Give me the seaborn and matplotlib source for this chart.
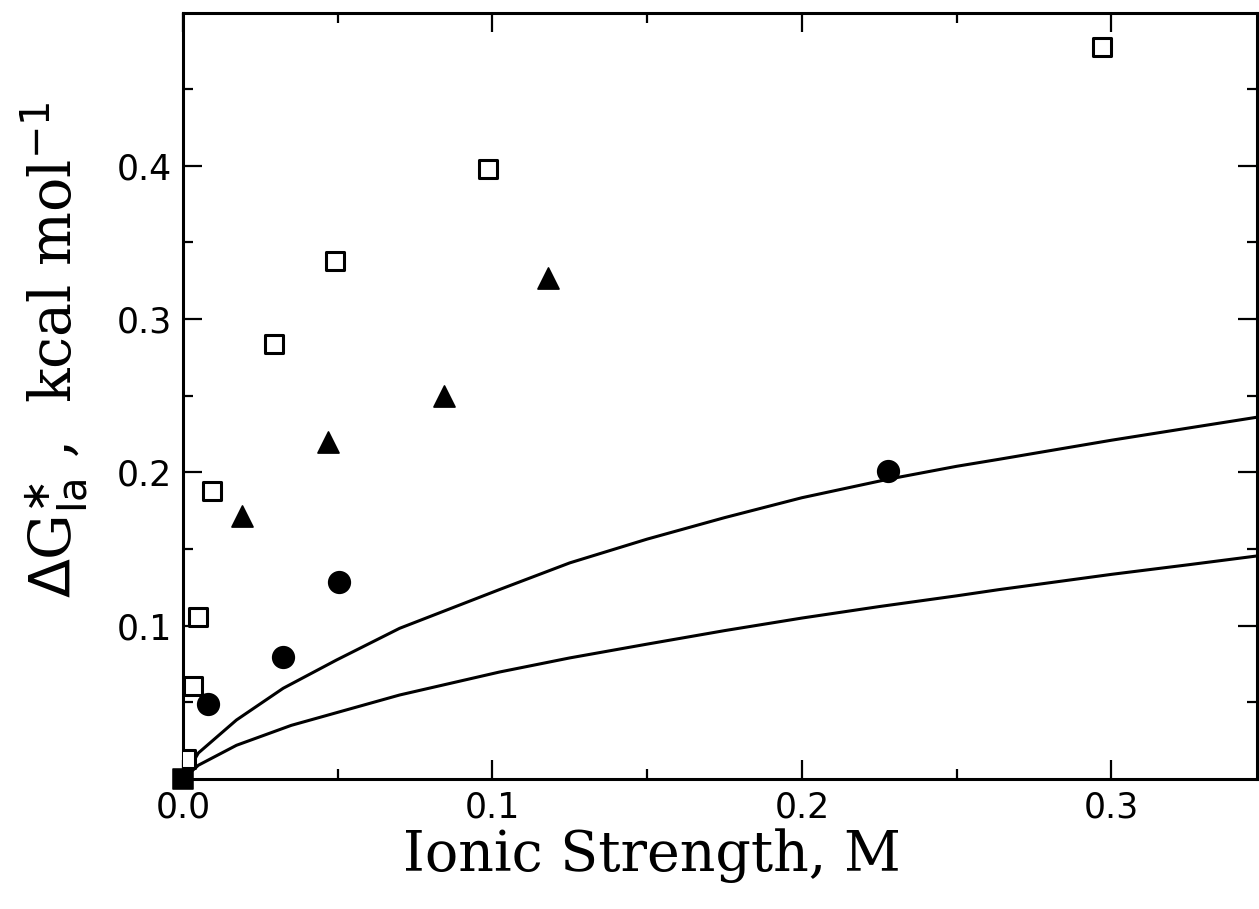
import numpy as np
import pandas as pd
import matplotlib
matplotlib.use("Agg")
import matplotlib.pyplot as plt
import seaborn as sns

# Данные
sq_x = [0.001, 0.0032, 0.0048, 0.0094, 0.0294, 0.049, 0.0987, 0.297]
sq_y = [0.013, 0.0607, 0.1057, 0.188, 0.284, 0.338, 0.398, 0.4775]

tri_x = [0.019, 0.047, 0.0845, 0.118]
tri_y = [0.1716, 0.220, 0.250, 0.327]

circ_x = [0.0082, 0.0323, 0.0503, 0.2277]
circ_y = [0.049, 0.0796, 0.1285, 0.2009]

origin_x = [0.0]
origin_y = [0.0]

upper_x = [0.0, 0.005, 0.0173, 0.0324, 0.0496, 0.07, 0.1023, 0.125, 0.15, 0.175,
           0.2, 0.2277, 0.25, 0.2635, 0.3, 0.325, 0.347]
upper_y = [0.0, 0.017, 0.0385, 0.0592, 0.0776, 0.0983, 0.1236, 0.141, 0.1565, 0.1705,
           0.1835, 0.1955, 0.204, 0.2085, 0.221, 0.229, 0.236]

lower_x = [0.0, 0.005, 0.0173, 0.035, 0.07, 0.1023, 0.125, 0.15, 0.175, 0.2, 0.225,
           0.25, 0.2635, 0.3, 0.325, 0.347]
lower_y = [0.0, 0.009, 0.022, 0.035, 0.0548, 0.0698, 0.079, 0.088, 0.0968, 0.105, 0.1125,
           0.1195, 0.1235, 0.1335, 0.1398, 0.1455]

sns.set_style("ticks")
plt.rcParams["font.family"] = ["DejaVu Sans"]
plt.rcParams["text.color"] = "black"
plt.rcParams["axes.labelcolor"] = "black"

fig = plt.figure(figsize=(12.59, 9.09), dpi=100)
ax = fig.add_axes([0.1453, 0.143, 0.853, 0.8432])

sns.lineplot(x=upper_x, y=upper_y, ax=ax, color="black", lw=2.2, sort=False)
sns.lineplot(x=lower_x, y=lower_y, ax=ax, color="black", lw=2.2, sort=False)

sns.scatterplot(x=sq_x, y=sq_y, ax=ax, marker="s", s=170, facecolor="white",
                edgecolor="black", linewidth=2.2, zorder=3)
sns.scatterplot(x=tri_x, y=tri_y, ax=ax, marker="^", s=230, color="black",
                edgecolor="black", zorder=3)
sns.scatterplot(x=circ_x, y=circ_y, ax=ax, marker="o", s=240, color="black",
                edgecolor="black", zorder=3)
sns.scatterplot(x=origin_x, y=origin_y, ax=ax, marker="s", s=200, color="black",
                edgecolor="black", zorder=4, clip_on=False)

ax.set_xlim(0, 0.347)
ax.set_ylim(0, 0.5)
ax.set_xticks([0.0, 0.1, 0.2, 0.3])
ax.set_xticklabels(["0.0", "0.1", "0.2", "0.3"])
ax.set_xticks([0.05, 0.15, 0.25], minor=True)
ax.set_yticks([0.1, 0.2, 0.3, 0.4])
ax.set_yticklabels(["0.1", "0.2", "0.3", "0.4"])
ax.set_yticks([0.05, 0.15, 0.25, 0.35, 0.45], minor=True)

ax.tick_params(which="both", direction="in", top=True, right=True, width=1.6,
               colors="black", labelcolor="black")
ax.tick_params(which="major", length=14, labelsize=25, pad=8)
ax.tick_params(which="minor", length=7)
for sp in ax.spines.values():
    sp.set_linewidth(2.2)
    sp.set_color("black")

ax.set_xlabel("Ionic Strength, M", family="DejaVu Serif", fontsize=40, color="black")
ax.xaxis.set_label_coords(0.437, -0.064)
ax.set_ylabel(r"$\Delta$G$^{\ast}_{\rm Ia}$ ,  kcal mol$^{-1}$", family="DejaVu Serif",
              fontsize=41, color="black")
ax.yaxis.set_label_coords(-0.086, 0.56)

fig.savefig("out.png", dpi=100, facecolor="white")
